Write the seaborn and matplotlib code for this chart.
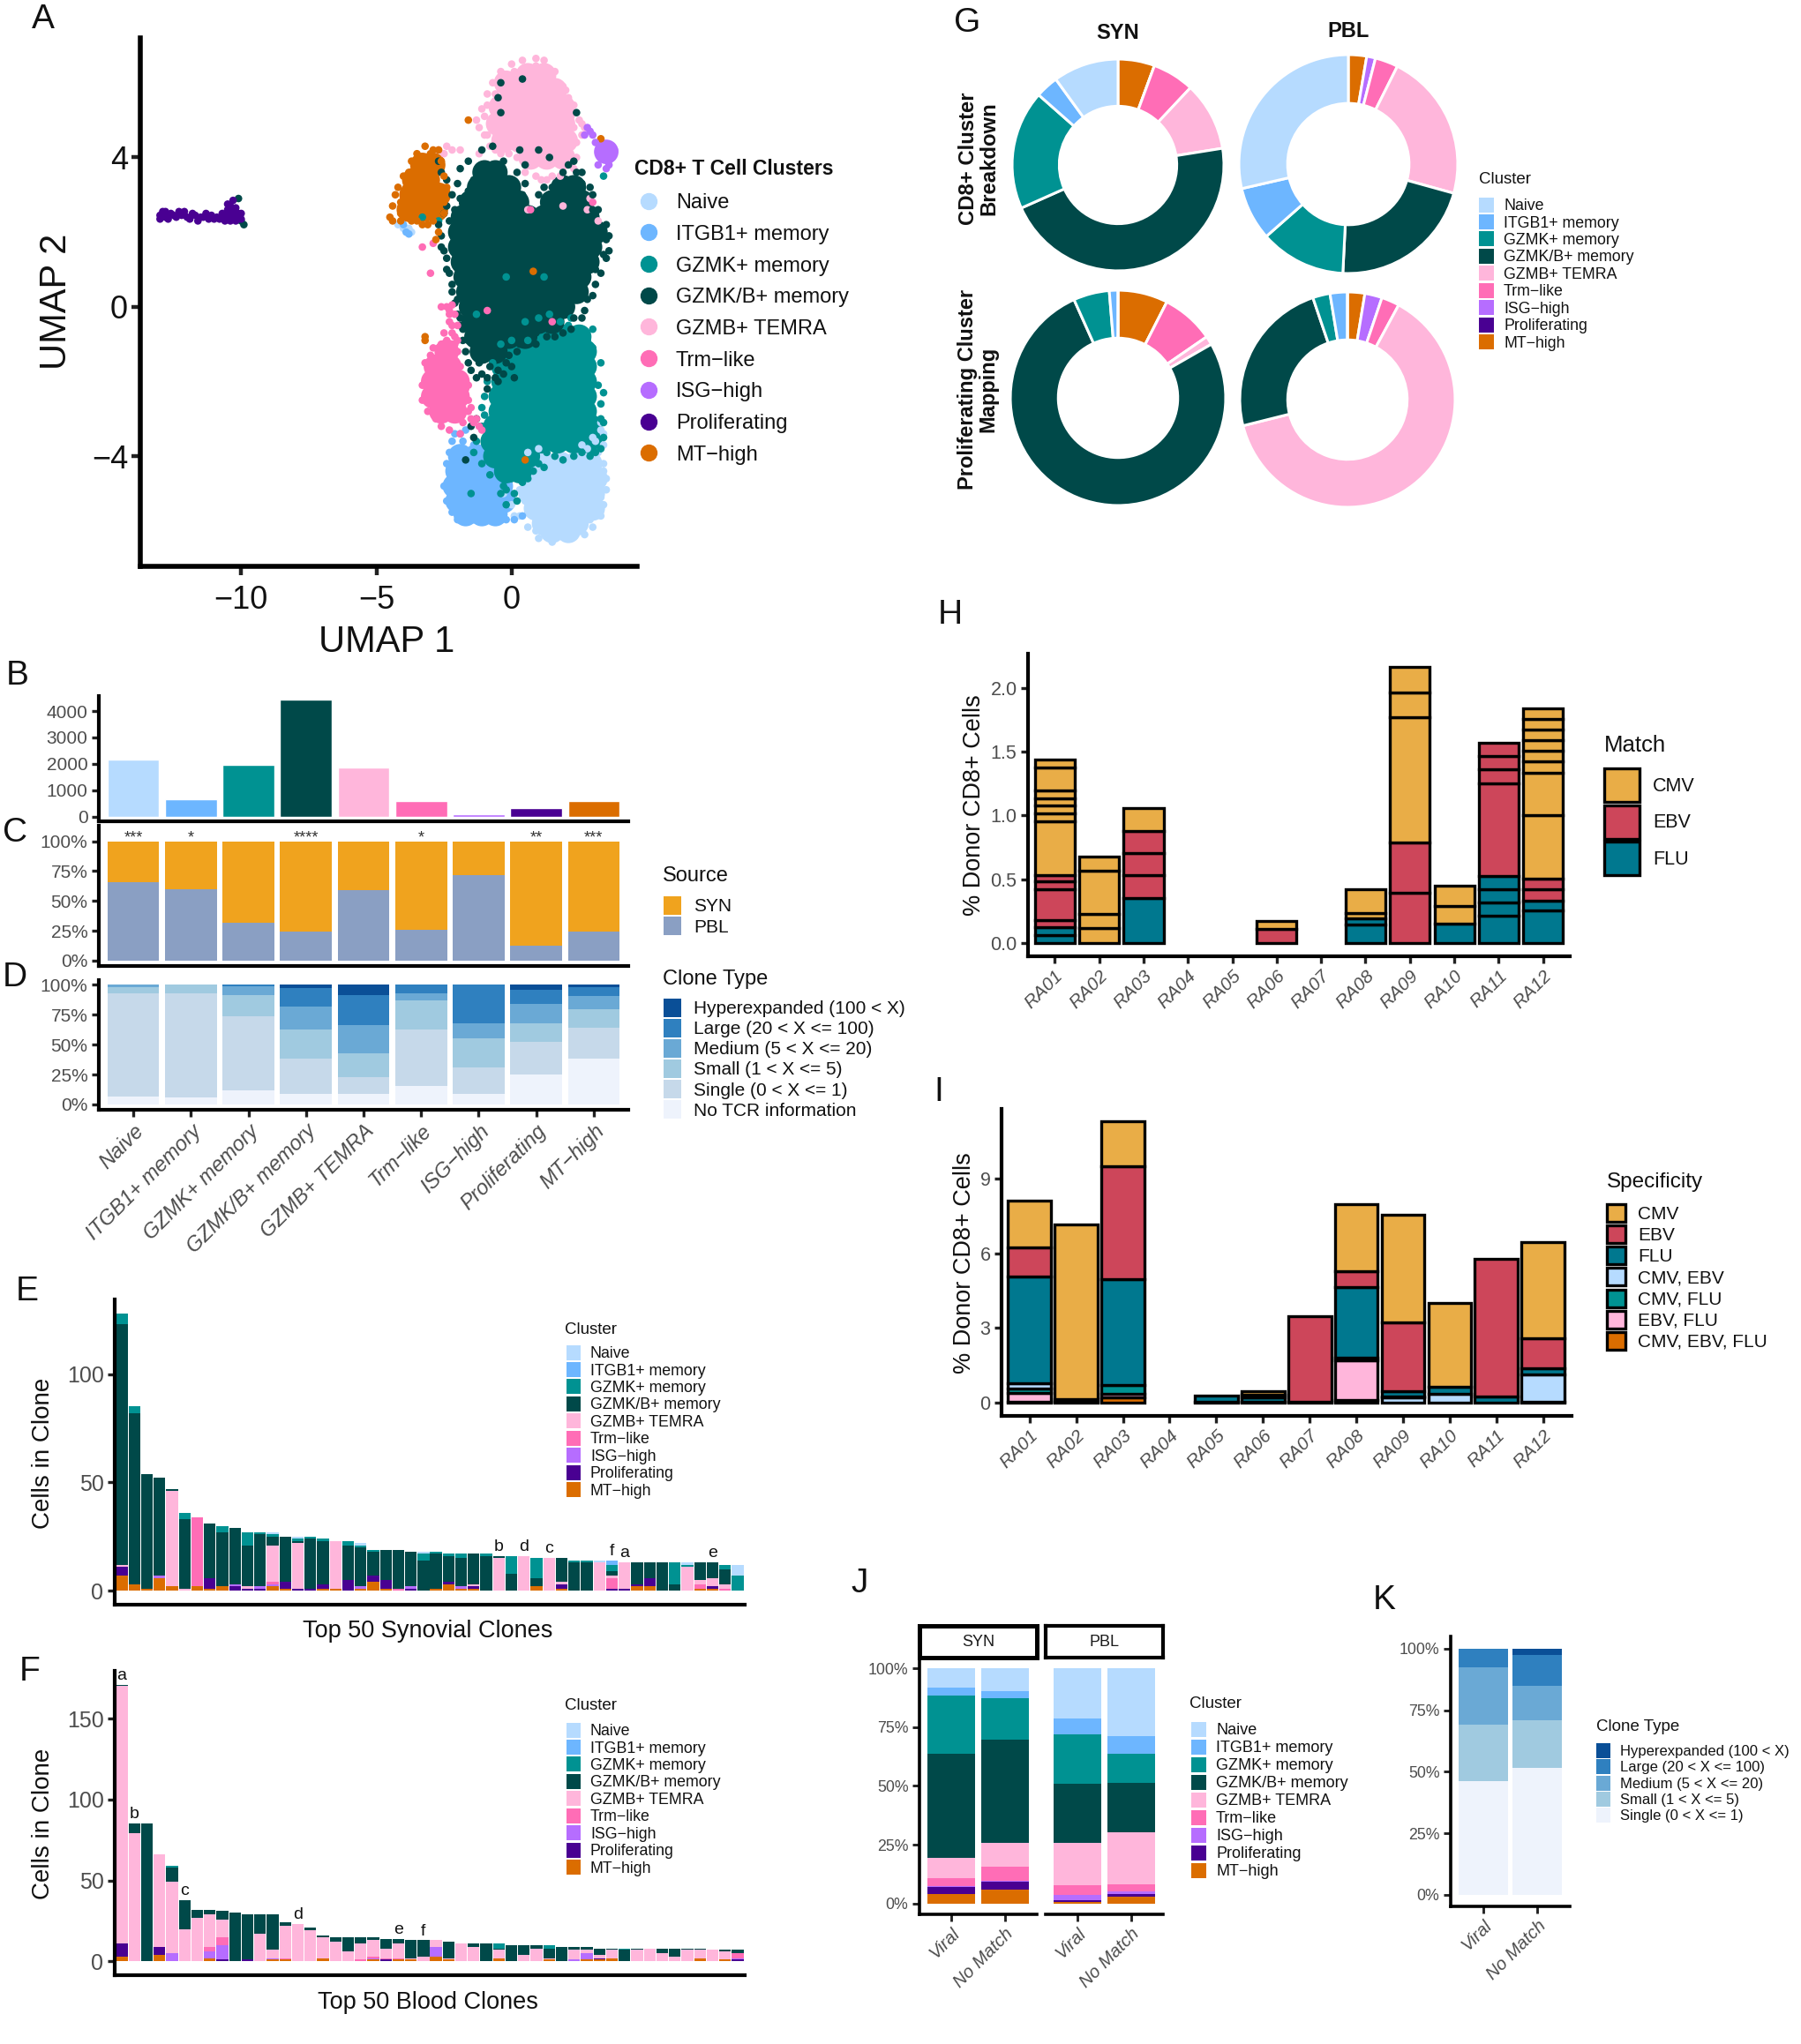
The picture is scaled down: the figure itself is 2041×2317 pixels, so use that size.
import matplotlib
matplotlib.use("Agg")
import matplotlib.pyplot as plt
import pandas as pd
import seaborn as sns
from matplotlib.lines import Line2D
from matplotlib.patches import Patch

W, H = 2041, 2317
GREY = "#4d4d4d"

CLUSTERS = ["Naive", "ITGB1+ memory", "GZMK+ memory", "GZMK/B+ memory", "GZMB+ TEMRA",
            "Trm\u2212like", "ISG\u2212high", "Proliferating", "MT\u2212high"]
CLUSTER_COLORS = ["#b6dbff", "#6db6ff", "#009292", "#004949", "#ffb6db",
                  "#ff6db6", "#b66dff", "#490092", "#db6d00"]
PALETTE = dict(zip(CLUSTERS, CLUSTER_COLORS))

# panel A, UMAP positions: dense body of each cluster
CORE_TEMRA = [(.6, 6.2), (1.2, 6.2), (-.2, 6), (0, 5.8), (.6, 5.8), (1.2, 5.8), (1.6, 5.8), (-.4, 5.35), (.2, 5.35), (.8, 5.35),
              (1.4, 5.35), (1.9, 5.35), (-.5, 4.9), (.1, 4.9), (.7, 4.9), (1.3, 4.9), (1.9, 4.9), (-.3, 4.45), (.3, 4.45),
              (.9, 4.45), (1.5, 4.45), (2, 4.45), (.7, 4), (1.3, 4), (1.9, 4)]
CORE_NAIVE = [(1.2, -4.2), (1.8, -4.2), (2.4, -4.2), (2.9, -4.2), (.9, -4.6), (1.5, -4.6), (2.1, -4.6), (2.7, -4.6),
              (3.1, -4.6), (.7, -5), (1.3, -5), (1.9, -5), (2.5, -5), (3, -5), (.9, -5.4), (1.5, -5.4), (2.1, -5.4),
              (2.7, -5.4), (3, -5.4), (1.2, -5.8), (1.8, -5.8), (2.4, -5.8), (1.5, -6), (2.1, -6)]
CORE_ITGB1 = [(-1.9, -4), (-1.3, -4), (-2, -4.4), (-1.4, -4.4), (-.8, -4.4), (-2.1, -4.8), (-1.5, -4.8), (-.9, -4.8),
              (-.4, -4.8), (-2, -5.2), (-1.4, -5.2), (-.8, -5.2), (-.3, -5.2), (-1.7, -5.55), (-1.1, -5.55), (-.6, -5.55)]
CORE_GZMK = [(.9, -.8), (1.4, -.8), (2, -.8), (2.5, -.8), (-.1, -1.2), (.5, -1.2), (1.1, -1.2), (1.7, -1.2), (2.3, -1.2),
             (2.7, -1.2), (-.3, -1.6), (.3, -1.6), (.9, -1.6), (1.5, -1.6), (2.1, -1.6), (2.7, -1.6), (-.3, -2), (.3, -2),
             (.9, -2), (1.5, -2), (2.1, -2), (2.7, -2), (-.4, -2.4), (.2, -2.4), (.8, -2.4), (1.4, -2.4), (2, -2.4),
             (2.7, -2.4), (-.4, -2.8), (.2, -2.8), (.8, -2.8), (1.4, -2.8), (2, -2.8), (2.7, -2.8), (-.6, -3.2), (0, -3.2),
             (.6, -3.2), (1.2, -3.2), (1.8, -3.2), (2.4, -3.2), (2.9, -3.2), (-.7, -3.6), (-.1, -3.6), (.5, -3.6),
             (1.1, -3.6), (1.7, -3.6), (2.3, -3.6), (2.9, -3.6), (-.6, -4), (0, -4), (.6, -4), (-.2, -4.4), (.3, -4.4)]
CORE_GZMKB = [(-1, 3.6), (-.6, 3.6), (-1.2, 3.2), (-.6, 3.2), (-.1, 3.2), (1.9, 3.2), (2.3, 3.2), (-1.5, 2.8), (-.9, 2.8),
              (-.3, 2.8), (.2, 2.8), (1.5, 2.8), (2.1, 2.8), (2.6, 2.8), (-1.8, 2.4), (-1.2, 2.4), (-.6, 2.4), (0, 2.4),
              (.6, 2.4), (1.2, 2.4), (1.8, 2.4), (2.4, 2.4), (2.8, 2.4), (-1.9, 2), (-1.3, 2), (-.7, 2), (-.1, 2), (.5, 2),
              (1.1, 2), (1.7, 2), (2.3, 2), (2.9, 2), (3.1, 2), (-1.9, 1.6), (-1.3, 1.6), (-.7, 1.6), (-.1, 1.6), (.5, 1.6),
              (1.1, 1.6), (1.7, 1.6), (2.3, 1.6), (2.9, 1.6), (-1.8, 1.2), (-1.2, 1.2), (-.6, 1.2), (0, 1.2), (.6, 1.2),
              (1.2, 1.2), (1.8, 1.2), (2.4, 1.2), (2.8, 1.2), (-1.7, .8), (-1.1, .8), (-.5, .8), (.1, .8), (.7, .8),
              (1.3, .8), (1.9, .8), (2.5, .8), (-1.6, .4), (-1, .4), (-.4, .4), (.2, .4), (.8, .4), (1.4, .4), (2, .4),
              (2.4, .4), (-1.5, 0), (-.9, 0), (-.3, 0), (.3, 0), (.9, 0), (1.5, 0), (1.9, 0), (-1.4, -.4), (-.8, -.4),
              (-.2, -.4), (.4, -.4), (1, -.4), (1.5, -.4), (-1.3, -.8), (-.7, -.8), (-.1, -.8), (.5, -.8), (-1.1, -1.2),
              (-.6, -1.2)]
CORE_TRM = [(-2.4, -1.2), (-2.8, -1.6), (-2.3, -1.6), (-2.9, -2), (-2.4, -2), (-2, -2), (-2.9, -2.4), (-2.4, -2.4),
            (-2, -2.4), (-2.6, -2.8), (-2.1, -2.8)]
CORE_ISG = [(3.5, 4.15)]
CORE_MT = [(-3.3, 3.8), (-2.9, 3.8), (-3.6, 3.4), (-3.1, 3.4), (-3.7, 3), (-3.1, 3), (-2.7, 3), (-3.8, 2.6), (-3.2, 2.6),
           (-2.8, 2.6)]

# loose single cells around the clusters
DOTS_TEMRA = [(-1.3, 5), (-1.2, 4.8), (-1.1, 5.3), (-.9, 5.7), (-.7, 6), (-.4, 6.3), (0, 6.5), (.4, 6.6), (.9, 6.65),
              (1.2, 6.6), (1.6, 6.3), (2, 5.8), (2.3, 5.4), (2.5, 5), (2.6, 4.6), (-1, 4.6), (-.8, 4.3), (-2.7, 4.2),
              (-2.4, 4.3), (-2.5, 4.1), (-1.2, 4.1), (.6, 3.8), (.9, 3.5), (1.1, 3.4), (1.5, 3.5), (2.7, 4.8), (2.9, 2.9),
              (2.8, 2.6), (3.2, 2.3), (.6, 2.6), (1.9, 2.7), (2.6, 4.9), (-2.2, 4.2), (-1.9, 4.2), (-1, 5.1), (-.9, 5.4),
              (-.8, 4.9), (-.9, 4.6), (-.6, 5.7), (-.3, 6.1), (.1, 6.3), (.5, 6.4), (.9, 6.45), (1.3, 6.4), (1.5, 6.1),
              (1.9, 5.9), (2.1, 5.6), (2.2, 5.1), (2.3, 4.8), (2.4, 4.4), (2.4, 4), (2.3, 3.7), (1.8, 3.5), (1.3, 3.4),
              (.5, 3.6), (.2, 4), (-.1, 4.1), (-.4, 4.1), (-.6, 4.2)]
DOTS_NAIVE = [(.6, -3.9), (1, -3.8), (3.4, -3.7), (3.4, -4.2), (3.5, -4.6), (3.5, -4.9), (3.4, -5.3), (3.3, -5.6), (3, -5.9),
              (2.7, -6.1), (2.2, -6.2), (1.5, -6.3), (1, -6.2), (.6, -5.9), (.3, -5.6), (0, -5.3), (-.3, -5), (3.3, -3.1),
              (3.3, -2.6), (3.4, -3.4), (3.1, -3.6), (2.6, -3.7), (-4.2, 2.2), (-4, 2.1), (-3.7, 2), (-3.8, 2.1), (1.9, -6.1),
              (2.4, -6), (1.3, -6.1), (.9, -6), (2.9, -5.7), (3.3, -5.1), (3.4, -4.4), (.6, -5.5), (.5, -5.2), (.3, -4.9),
              (.1, -5.6), (3.2, -3.9), (2.8, -3.8), (3, -3.5), (3.3, -3.3)]
DOTS_ITGB1 = [(-2.2, -3.6), (-1.9, -3.4), (-1.7, -3.3), (-1.4, -3.7), (-2.4, -4.2), (-2.5, -4.8), (-2.4, -5.2), (-2.2, -5.5),
              (-2, -5.7), (-1.4, -5.7), (-.8, -5.7), (-.2, -5.7), (.1, -5.7), (.4, -5.6), (-4, 2.2), (-3.9, 2), (-3.8, 1.95),
              (-2.1, -3.4), (-1.8, -3.6), (-2.3, -3.9)]
DOTS_GZMK = [(.5, -.4), (1, -.3), (1.4, -.2), (2.1, -.5), (2.6, -.6), (3, -1.1), (3, -1.6), (3.2, -2.1), (3.3, -2.6), (3.3, -3),
             (3.4, -3.5), (3.3, -3.8), (-1, -2.9), (-1.3, -3.6), (-1.4, -3.9), (-1.1, -4.2), (-.8, -4.5), (-.3, -4.8), (.1, -5),
             (.6, -4.6), (1, -4.2), (1.6, -4), (2.3, -4), (2.9, -4), (-.2, -5.3), (-1.5, -5), (-1.3, -.2), (-1.1, -2.7),
             (-3.3, 2.4), (-2.7, 2.3), (3.4, 3.5), (-.2, .8), (1.2, .8), (1.3, -3.9), (1.9, -4.1), (2.6, -3.9), (3.1, -3.9),
             (.8, -4.4), (.4, -4.7), (0, -4.6), (-.4, -5), (.2, -5.2), (-.2, -4.9), (1.2, -4.3), (3, -.6), (2.8, -.9),
             (2.2, -.3), (1.8, -.4), (.6, -.9), (0, -.9), (-.4, -1), (-.7, -1.5), (-.9, -2), (-1, -2.4), (-1.1, -3.2),
             (3.3, -1.5), (3.4, -2.3), (3.4, -3.1)]
DOTS_GZMKB = [(-1.6, 3.9), (-1.1, 4.2), (-.7, 4.3), (-.3, 3.9), (.2, 3.6), (.5, 3.3), (1, 3), (2.3, 3.9), (2.1, 3.8), (2.6, 3.6),
              (2.9, 3.2), (3, 3), (3.2, 2.6), (3.5, 2.2), (3.5, 1.8), (3.4, 1.4), (3.5, 1.3), (3.1, 1), (3.1, .6), (2.8, .2),
              (2.7, -.1), (2.3, -.3), (1.9, -.7), (1.3, -.8), (.9, -1), (.2, -1.2), (-.1, -1.3), (-.5, -1.7), (-.9, -1.9),
              (-1.2, -1.5), (-1.6, -.9), (-1.8, -.6), (-1.9, -.3), (-2, .2), (-2.2, .6), (-2.4, 1), (-2.5, 1.5), (-2.6, 1.9),
              (-2.7, 2.2), (-2.4, 2.7), (-2.2, 3), (-2, 3.3), (-2.6, 3.6), (-2.7, 3.9), (-2.4, 3.4), (-1.9, 3.7), (-.2, -1.5),
              (-.9, -2.2), (-1.3, -3), (-1.4, -3.5), (-1.7, -4.1), (-.5, -2), (-1.5, -3.2), (-.4, 6), (-.5, 5.6), (.4, 6.1),
              (-.4, 5.2), (.3, 4.2), (1, 4.2), (.5, 3.8), (1.4, 4), (2.4, 5.2), (-10.1, 2.9), (-10, 2.3), (-9.9, 2.2),
              (-2.5, 2.5), (-2.3, 2.3), (-2.6, 1.6), (-2.4, 1.3), (-2.3, .9), (-2.2, .4), (-2.1, .1), (-2, -.2), (-1.9, -.5),
              (-1.8, -.9), (-1.7, -1.2), (-1.6, -1.5), (-1.5, -1.7), (-1.3, -1.9), (-1.1, -1.8), (-.8, -1.6), (-.6, -1.9),
              (-.3, -1.8), (0, -1.6), (.1, -1.9), (-1.4, -1.2), (-1.2, -.9), (.3, -1), (.6, -.6), (.9, -.7), (1.3, -.5),
              (1.6, -.8), (2.2, -.6), (2.6, -.3), (3, .3), (3.3, .9), (3.6, 1.9), (3.6, 1.5), (3.3, 2.1), (3, 2.6), (2.6, 3.3),
              (2.4, 3.6), (1.9, 3.6), (1.5, 3.2), (1.2, 3.2), (.4, 3), (.1, 3.3), (-.3, 3.4), (-1.4, 3.4), (-1.6, 3.1),
              (-1.9, 2.9), (-2.1, 2.6)]
DOTS_TRM = [(-2.6, 0), (-2.4, 0), (-2.2, .05), (-2.1, -.2), (-2.2, -.5), (-2.1, -.8), (-2.5, -.7), (-2.6, -1), (-2, -1.2),
            (-3, -1.3), (-3.2, -1.5), (-1.9, -1.6), (-1.8, -2), (-3.3, -2.1), (-3.3, -2.5), (-1.6, -2.5), (-3.1, -2.8),
            (-2.8, -3), (-2.6, -3.2), (-2.3, -3.3), (-1.8, -3.1), (-1.5, -3), (-1.2, -3.2), (-1.1, -3.3), (-1.9, -3.4),
            (-2.9, 1.7), (-3, .9), (-3.3, 1.6), (.7, 2.6), (3, 2.8), (-.9, -.1), (1.5, -.4), (-2.3, -.2), (-2.3, -.4), (-2, -.5),
            (-2.2, -.7), (-2.4, -.9), (-2.2, -1), (-2.1, -1), (-2.7, -1.1), (-2.9, -1.1), (-2, -.9), (-2.3, -.1), (-1.6, -2.8),
            (-1.4, -3.1), (-1.7, -2.2), (-1.6, -2.1), (-1.5, -2.7), (-1.3, -3)]
DOTS_ISG = [(2.8, 4.8), (2.9, 4.7), (3, 4.6), (2.7, 4.6), (3.1, 4.4), (3.3, 4.2), (3.7, 4.3), (3.7, 4), (3.6, 3.8), (3.2, 3.8),
            (3.8, 4.2), (3.5, 3.7)]
DOTS_PROLIF = [(-13, 2.45), (-12.9, 2.55), (-12.8, 2.4), (-12.6, 2.5), (-12.5, 2.45), (-12.3, 2.55), (-12.2, 2.45), (-12, 2.4),
               (-11.9, 2.35), (-11.7, 2.45), (-11.6, 2.3), (-11.4, 2.4), (-11.2, 2.35), (-11.1, 2.45), (-10.9, 2.4), (-10.8, 2.35),
               (-10.6, 2.45), (-10.5, 2.35), (-10.4, 2.5), (-10.3, 2.4), (-10.2, 2.55), (-10.1, 2.35), (-10, 2.5), (-10.4, 2.7),
               (-10.3, 2.85), (-10.5, 2.75), (-10.2, 2.65), (-10.4, 2.3), (-13, 2.35), (-12.7, 2.35), (-12.8, 2.55), (-12.4, 2.4),
               (-12.1, 2.55), (-11.8, 2.5), (-11.5, 2.4), (-11.3, 2.5), (-11, 2.35), (-10.7, 2.5), (-10.6, 2.3), (-10.2, 2.3),
               (-10.1, 2.5), (-10.3, 2.6), (-10.5, 2.6), (-10.1, 2.45), (-10, 2.35)]
DOTS_MT = [(-3.2, 4.3), (-2.9, 4.2), (-2.7, 4.2), (-3.5, 4.1), (-3.7, 3.9), (-4, 3.5), (-4.2, 3.2), (-4.3, 3), (-4.4, 2.7),
           (-4.5, 2.4), (-4.4, 2.3), (-4.1, 2.3), (-3.7, 2.3), (-3.3, 2.2), (-2.9, 2.3), (-2.7, 2), (-2.8, 1.8), (-2.4, 3.2),
           (-1.6, 5), (-3.2, -.8), (-3.2, -.9), (.5, -4.1), (.8, .95), (3.3, 4.5), (-10.4, 2.6), (-3.9, 3.2), (-4.1, 2.8),
           (-4.1, 2.5), (-3.9, 2.4), (-3.5, 2.3), (-3.1, 2.2), (-2.5, 2.5), (-2.5, 2.8), (-2.5, 3.5), (-2.6, 3.9), (-3, 4.1),
           (-3.4, 4), (-3.8, 3.6)]

# panels B, C, D
CELL_COUNTS = [2150, 660, 1970, 4420, 1860, 600, 100, 310, 580]
SOURCE_PBL = [66, 60, 31.5, 24, 59, 26, 71.5, 12.5, 24]
SOURCE_SYN = [34, 40, 68.5, 76, 41, 74, 28.5, 87.5, 76]
STARS = ["***", "*", "", "****", "", "*", "", "**", "***"]
CLONE_TYPES = ["Hyperexpanded (100 < X)", "Large (20 < X <= 100)", "Medium (5 < X <= 20)",
               "Small (1 < X <= 5)", "Single (0 < X <= 1)", "No TCR information"]
CLONE_COLORS = ["#0a4f97", "#2f80bf", "#6aa9d5", "#a0cae0", "#c6d9ea", "#eef3fc"]
CLONE_HYPER = [0, 0, 0, 2.6, 8.7, 0, 0, 4, 2]
CLONE_LARGE = [0, 0, 1.3, 15.7, 25, 7, 32, 12, 7.3]
CLONE_MEDIUM = [2, 0, 7.4, 19.2, 23.7, 5.8, 12.6, 16, 11.2]
CLONE_SMALL = [5.4, 7.4, 17.3, 24, 19.6, 24.7, 24.6, 16, 15.5]
CLONE_SINGLE = [86.2, 86.8, 62.1, 29.8, 14.3, 47.1, 22.1, 27, 25.5]
CLONE_NONE = [6.4, 5.8, 11.9, 8.7, 8.7, 15.4, 8.7, 25, 38.5]

# panel E, top 50 synovial clones, cells per cluster
SYN_NAIVE = [0]*12 + [1, 0, 1, 0, 0, 0, 0, 1, 0, 0, 0, 0, 1] + [0]*13 + [1] + [0]*6 + [1, 0, 0, 0, 5]
SYN_ITGB1 = [0]*39 + [2] + [0]*10
SYN_GZMK = [5, 3, 0, 0, 0, 3, 0, 0, 3, 0, 6, 1, 1, 0, 1, 1, 1, 0, 2, 1, 1, 0, 0, 0, 3, 1, 1, 2, 0, 1,
            0, 8, 0, 9, 0, 0, 1, 1, 0, 3, 0, 0, 0, 0, 10, 1, 0, 0, 2, 7]
SYN_GZMKB = [111, 79, 53, 45, 1, 32, 0, 25, 25, 26, 19, 24, 4, 21, 1, 23, 20, 0, 16, 18, 11, 14, 18, 16, 14, 16, 12, 13, 14, 16,
             1, 8, 0, 4, 0, 11, 13, 13, 0, 2, 0, 10, 7, 13, 3, 0, 8, 7, 7, 0]
SYN_TEMRA = [1, 0, 0, 0, 44, 1, 0, 0, 0, 0, 1, 0, 17, 0, 21, 0, 0, 22, 0, 0, 0, 0, 0, 0, 0, 0, 0, 0, 1, 0,
             15, 0, 16, 0, 15, 1, 0, 0, 13, 1, 12, 0, 0, 0, 0, 11, 2, 4, 2, 0]
SYN_TRM = [0, 0, 0, 0, 0, 0, 32, 0, 0, 0, 0, 0, 1, 0, 0, 0, 0, 0, 0, 0, 0, 0, 1, 0, 0, 0, 0, 0, 0, 0,
           0, 0, 0, 0, 0, 0, 0, 0, 0, 5, 0, 0, 0, 0, 0, 0, 2, 0, 1, 0]
SYN_ISG = [0, 0, 0, 1, 0, 0, 0, 0, 0, 1, 0, 1, 1, 0, 0, 0, 0, 0, 0, 1, 0, 0, 0, 1, 0, 0, 0, 1, 0, 0] + [0]*20
SYN_PROLIF = [4, 0, 0, 0, 0, 0, 0, 5, 0, 2, 1, 1, 0, 3, 1, 1, 2, 0, 5, 0, 3, 4, 0, 1, 0, 0, 1, 0, 1, 0,
              0, 0, 0, 0, 0, 2, 0, 0, 0, 1, 1, 1, 4, 0, 0, 0, 0, 1, 0, 0]
SYN_MT = [7, 3, 1, 6, 2, 0, 2, 1, 2, 0, 0, 0, 2, 1, 0, 0, 1, 1, 0, 1, 4, 1, 0, 0, 0, 1, 3, 1, 1, 0,
          0, 0, 0, 2, 0, 1, 0, 0, 0, 0, 0, 2, 2, 0, 0, 0, 1, 1, 0, 0]
SYN_TAGS = [("b", 30), ("d", 32), ("c", 34), ("f", 39), ("a", 40), ("e", 47)]

# panel F, top 50 blood clones
PBL_GZMK = [0, 0, 0, 0, 1] + [0]*25 + [3, 0, 0, 0, 2, 0, 0, 0, 0, 0, 1] + [0]*9
PBL_GZMKB = [1, 6, 85, 0, 9, 18, 5, 3, 5, 30, 28, 12, 22, 2, 0, 2, 1, 3, 9, 4, 2, 6, 3, 11, 10, 0, 10, 0, 2, 11,
             1, 10, 6, 2, 6, 9, 2, 2, 4, 1, 7, 1, 0, 3, 5, 1, 1, 0, 1, 2]
PBL_TEMRA = [159, 79, 0, 57, 44, 20, 27, 20, 11, 0, 0, 17, 5, 20, 23, 19, 13, 12, 6, 10, 10, 6, 9, 1, 3, 4, 1, 11, 9, 0,
             5, 0, 4, 8, 1, 0, 6, 2, 2, 5, 0, 7, 8, 5, 3, 7, 5, 7, 5, 0]
PBL_TRM = [0, 0, 0, 0, 0, 0, 0, 3, 5, 0, 0, 0, 0, 1, 0, 0, 0, 0, 0, 1, 1, 1, 1] + [0]*26 + [3]
PBL_ISG = [0, 0, 0, 0, 5, 0, 0, 4, 9, 0, 0, 0, 1, 0, 0, 0, 0, 0, 0, 0, 1, 0, 0, 0, 0, 6, 0, 0, 0, 0,
           0, 0, 0, 0, 0, 0, 1, 4, 0, 0, 0, 0, 0, 0, 0, 0, 0, 0, 0, 1]
PBL_PROLIF = [8, 0, 0, 5, 0, 0, 0, 0, 1, 0, 1, 0, 0, 0, 0, 0, 0, 0, 0, 0, 0, 1, 0, 0, 0, 0, 0, 0, 0, 0,
              0, 0, 0, 0, 0, 0, 0, 0, 1, 0, 0, 0, 0, 0, 0, 0, 0, 0, 0, 1]
PBL_MT = [3, 0, 0, 4, 0, 0, 0, 2, 0, 0, 0, 0, 1, 1, 0, 0, 2, 0, 0, 0, 1, 0, 1, 1, 0, 3, 1, 0, 0, 0,
          2, 0, 0, 0, 1, 0, 0, 1, 1, 2, 0, 0, 0, 0, 0, 0, 2, 0, 1, 0]
PBL_TAGS = [("a", 0), ("b", 1), ("c", 5), ("d", 14), ("e", 22), ("f", 24)]

# panel G, shares going clockwise from twelve o'clock
DONUT_ORDER = ["MT\u2212high", "ISG\u2212high", "Trm\u2212like", "GZMB+ TEMRA", "GZMK/B+ memory", "GZMK+ memory",
               "ITGB1+ memory", "Naive"]
SYN_BREAKDOWN = [5.6, 0, 6.4, 10.5, 45.9, 18.2, 3.5, 10]
PBL_BREAKDOWN = [2.7, 1.3, 3.4, 21.9, 21.5, 12.7, 7.9, 28.6]
SYN_MAPPING = [7.5, 0, 7.9, 1.3, 76.6, 5.4, 1.3, 0]
PBL_MAPPING = [2.6, 2.6, 2.7, 63.2, 23.7, 2.6, 2.6, 0]

# panel H, one (match, share) per clone from the bottom of each bar up
DONORS = ["RA01", "RA02", "RA03", "RA04", "RA05", "RA06", "RA07", "RA08", "RA09", "RA10", "RA11", "RA12"]
VIRUS_COLORS = {"CMV": "#e9ad47", "EBV": "#cd465a", "FLU": "#00788f", "CMV, EBV": "#b6dbff",
                "CMV, FLU": "#009292", "EBV, FLU": "#ffb6db", "CMV, EBV, FLU": "#db6d00"}
MATCH_RA01 = [("FLU", .062), ("FLU", .063), ("EBV", .057), ("EBV", .238), ("EBV", .063), ("EBV", .053), ("CMV", .422),
              ("CMV", .058), ("CMV", .063), ("CMV", .057), ("CMV", .058), ("CMV", .185), ("CMV", .062)]
MATCH_RA02 = [("CMV", .115), ("CMV", .114), ("CMV", .337), ("CMV", .113)]
MATCH_RA03 = [("FLU", .351), ("EBV", .18), ("EBV", .173), ("EBV", .178), ("CMV", .178)]
MATCH_RA06 = [("EBV", .108), ("CMV", .065)]
MATCH_RA08 = [("FLU", .143), ("FLU", .051), ("CMV", .042), ("CMV", .184)]
MATCH_RA09 = [("EBV", .397), ("EBV", .393), ("CMV", .981), ("CMV", .197), ("CMV", .196)]
MATCH_RA10 = [("FLU", .15), ("CMV", .143), ("CMV", .155)]
MATCH_RA11 = [("FLU", .212), ("FLU", .104), ("FLU", .104), ("FLU", .104), ("EBV", .728), ("EBV", .108), ("EBV", .104), ("EBV", .106)]
MATCH_RA12 = [("FLU", .254), ("FLU", .081), ("EBV", .085), ("EBV", .086), ("CMV", .496), ("CMV", .337), ("CMV", .086),
              ("CMV", .081), ("CMV", .085), ("CMV", .083), ("CMV", .086), ("CMV", .081)]

# panel I, same layout per specificity
SPEC_RA01 = [("CMV, EBV, FLU", .05), ("EBV, FLU", .33), ("CMV, FLU", .2), ("CMV, EBV", .2), ("FLU", 4.3), ("EBV", 1.15), ("CMV", 1.87)]
SPEC_RA02 = [("CMV, EBV, FLU", .03), ("CMV, FLU", .1), ("CMV", 7.02)]
SPEC_RA03 = [("CMV, EBV, FLU", .22), ("EBV, FLU", .13), ("CMV, FLU", .35), ("FLU", 4.26), ("EBV", 4.55), ("CMV", 1.8)]
SPEC_RA05 = [("CMV, EBV, FLU", .03), ("FLU", .27)]
SPEC_RA06 = [("CMV, FLU", .05), ("FLU", .18), ("EBV", .1), ("CMV", .12)]
SPEC_RA07 = [("CMV, FLU", .04), ("EBV", 3.45)]
SPEC_RA08 = [("CMV, EBV", .1), ("EBV, FLU", 1.6), ("CMV, FLU", .12), ("FLU", 2.84), ("EBV", .61), ("CMV", 2.7)]
SPEC_RA09 = [("CMV, EBV", .2), ("EBV, FLU", .04), ("FLU", .21), ("EBV", 2.77), ("CMV", 4.34)]
SPEC_RA10 = [("CMV, EBV", .35), ("FLU", .3), ("CMV", 3.37)]
SPEC_RA11 = [("FLU", .26), ("EBV", 5.53)]
SPEC_RA12 = [("EBV, FLU", .05), ("CMV, EBV", 1.07), ("FLU", .27), ("EBV", 1.19), ("CMV", 3.86)]

# panel J, shares in the order of CLUSTERS
VIRAL_GROUPS = ["Viral", "No Match"]
J_SYN_VIRAL = [8.1, 3.7, 24.4, 44.5, 8.6, 3.4, .3, 3, 4]
J_SYN_NOMATCH = [9.6, 3.3, 17.3, 44.2, 10, 6, .2, 3.5, 5.9]
J_PBL_VIRAL = [21.3, 7, 20.8, 25.1, 18.1, 4.2, 2.1, .8, .6]
J_PBL_NOMATCH = [28.7, 7.7, 12.2, 21.2, 22.1, 3, 1.2, .9, 3]

# panel K, shares in the order of CLONE_TYPES without the last one
K_VIRAL = [0, 7.4, 23.6, 22.7, 46.3]
K_NOMATCH = [2.7, 12.3, 13.9, 19.6, 51.5]

sns.set_theme(style="ticks")
plt.rcParams["font.family"] = ["Liberation Sans", "DejaVu Sans"]
plt.rcParams["axes.unicode_minus"] = True

fig = plt.figure(figsize=(W/100, H/100), dpi=100)
fig.patch.set_facecolor("white")


def px_axes(left, top, right, bottom):
    return fig.add_axes([left/W, 1 - bottom/H, (right - left)/W, (bottom - top)/H])


def style_axes(ax, lw=3, size=15, color=GREY, xlim=None, ylim=None):
    sns.despine(ax=ax)
    for side in ["left", "bottom"]:
        ax.spines[side].set_linewidth(lw)
        ax.spines[side].set_color("black")
    ax.tick_params(width=lw*0.8, length=6, labelsize=size, labelcolor=color, color="#222222", pad=3)
    ax.set_xlabel(None)
    ax.set_ylabel(None)
    ax.patch.set_alpha(0)
    if xlim:
        ax.set_xlim(*xlim)
    if ylim:
        ax.set_ylim(*ylim)


def slanted_labels(ax, labels, size):
    ax.set_xticks(range(len(labels)))
    ax.set_xticklabels(labels, rotation=45, ha="right", rotation_mode="anchor", style="italic", fontsize=size, color=GREY)


def place_ylabel(ax, text, x, y, size):
    ax.set_ylabel(text, fontsize=size, va="center", ha="center", color="#111111")
    ax.yaxis.set_label_coords(x/W, 1 - y/H, transform=fig.transFigure)


def place_xlabel(ax, text, x, y, size):
    ax.set_xlabel(text, fontsize=size, va="center", ha="center", color="#111111")
    ax.xaxis.set_label_coords(x/W, 1 - y/H, transform=fig.transFigure)


def fig_text(x, y, text, size, **kw):
    kw.setdefault("va", "center")
    kw.setdefault("ha", "left")
    kw.setdefault("color", "#111111")
    fig.text(x/W, 1 - y/H, text, fontsize=size, **kw)


def key(labels, colors, box_x, first_y, box_w, box_h, pitch, text_x, size, edge="none", lw=0, round_marks=False):
    """Legend placed by pixels: first_y is the middle of the first row."""
    p = size*100/72
    # the handle drawn by matplotlib is p*hh - descent tall
    hh = (box_h/p - .245)/.65
    desc_h = .35*p*(hh - .7)
    asc_h = box_h - desc_h
    asc_t, desc_t = .73*p, .21*p
    row = max(asc_h, asc_t) + max(desc_h, desc_t)
    top = first_y + (asc_h - desc_h)/2 - max(asc_h, asc_t)
    if round_marks:
        handles = [Line2D([], [], marker="o", ls="none", mfc=c, mec=c, ms=box_h*.72) for c in colors]
    else:
        handles = [Patch(facecolor=c, edgecolor=edge, linewidth=lw) for c in colors]
    fig.legend(handles=handles, labels=labels, loc="upper left", bbox_to_anchor=(box_x/W, 1 - top/H),
               bbox_transform=fig.transFigure, frameon=False, fontsize=size, handlelength=box_w/p, handleheight=hh,
               labelspacing=(pitch - row)/p, handletextpad=(text_x - box_x - box_w)/p, borderpad=0, borderaxespad=0,
               labelcolor="#111111")


def stack_table(groups, levels, columns):
    rows = []
    for level, col in zip(levels, columns):
        for g, v in zip(groups, col):
            rows.append({"group": g, "level": level, "value": v})
    return pd.DataFrame(rows)


def stacked(ax, table, palette, order, shrink=.9, lw=0, edge="none"):
    sns.histplot(data=table, x="group", weights="value", hue="level", hue_order=order, palette=palette,
                 multiple="stack", discrete=True, shrink=shrink, alpha=1, linewidth=lw, edgecolor=edge,
                 legend=False, ax=ax)


def clone_segments(by_donor):
    rows = []
    for d, segs in by_donor.items():
        for i, (virus, share) in enumerate(segs):
            rows.append({"group": DONORS.index(d), "level": f"{d}-{i}", "value": share, "virus": virus})
    return pd.DataFrame(rows)


# ---- A
core = []
dots = []
for name, pts in [("GZMB+ TEMRA", CORE_TEMRA), ("Naive", CORE_NAIVE), ("ITGB1+ memory", CORE_ITGB1), ("GZMK+ memory", CORE_GZMK),
                  ("GZMK/B+ memory", CORE_GZMKB), ("Trm\u2212like", CORE_TRM), ("MT\u2212high", CORE_MT), ("ISG\u2212high", CORE_ISG)]:
    core += [{"x": x, "y": y, "cluster": name} for x, y in pts]
for name, pts in [("GZMB+ TEMRA", DOTS_TEMRA), ("Naive", DOTS_NAIVE), ("ITGB1+ memory", DOTS_ITGB1), ("GZMK+ memory", DOTS_GZMK),
                  ("GZMK/B+ memory", DOTS_GZMKB), ("Trm\u2212like", DOTS_TRM), ("MT\u2212high", DOTS_MT), ("ISG\u2212high", DOTS_ISG),
                  ("Proliferating", DOTS_PROLIF)]:
    dots += [{"x": x, "y": y, "cluster": name} for x, y in pts]

ax = px_axes(159, 43, 722, 642)
sns.scatterplot(data=pd.DataFrame(core), x="x", y="y", hue="cluster", palette=PALETTE, s=400, linewidth=0, legend=False, ax=ax)
sns.scatterplot(data=pd.DataFrame(dots), x="x", y="y", hue="cluster", palette=PALETTE, s=38, linewidth=0, legend=False, ax=ax)
style_axes(ax, lw=4, size=26, color="#111111", xlim=(-13.73, 4.64), ylim=(-6.95, 7.2))
ax.tick_params(length=7)
ax.tick_params(axis="x", pad=8)
ax.set_xticks([-10, -5, 0])
ax.set_yticks([-4, 0, 4])
place_xlabel(ax, "UMAP 1", 438, 728, 30)
place_ylabel(ax, "UMAP 2", 64, 342, 30)
fig_text(719, 191, "CD8+ T Cell Clusters", 16.5, weight="bold")
key(CLUSTERS, CLUSTER_COLORS, 726, 228, 18, 18, 35.7, 766, 17, round_marks=True)

# ---- B
cluster_xlim = (-.6, 8.6)
ax = px_axes(112, 789, 712, 931)
sns.barplot(x=CLUSTERS, y=CELL_COUNTS, hue=CLUSTERS, palette=PALETTE, width=.9, saturation=1, legend=False, ax=ax)
style_axes(ax, xlim=cluster_xlim, ylim=(-180, 4570))
ax.set_xticks([])
ax.set_yticks([0, 1000, 2000, 3000, 4000])

# ---- C
ax = px_axes(112, 936, 712, 1095)
stacked(ax, stack_table(range(9), ["SYN", "PBL"], [SOURCE_SYN, SOURCE_PBL]), {"SYN": "#f0a31e", "PBL": "#8a9fc3"}, ["SYN", "PBL"])
style_axes(ax, xlim=cluster_xlim, ylim=(-4.5, 113))
ax.set_xticks([])
ax.set_yticks([0, 25, 50, 75, 100])
ax.set_yticklabels(["0%", "25%", "50%", "75%", "100%"])
for i, s in enumerate(STARS):
    ax.text(i, 102.5, s, ha="center", va="center", fontsize=13, color="#333333")
fig_text(751, 993, "Source", 17)
key(["SYN", "PBL"], ["#f0a31e", "#8a9fc3"], 752, 1026, 20, 21, 24, 786, 15)

# ---- D
ax = px_axes(112, 1111, 712, 1258)
stacked(ax, stack_table(range(9), CLONE_TYPES, [CLONE_HYPER, CLONE_LARGE, CLONE_MEDIUM, CLONE_SMALL, CLONE_SINGLE, CLONE_NONE]),
        dict(zip(CLONE_TYPES, CLONE_COLORS)), CLONE_TYPES)
style_axes(ax, xlim=cluster_xlim, ylim=(-4.5, 104))
ax.set_yticks([0, 25, 50, 75, 100])
ax.set_yticklabels(["0%", "25%", "50%", "75%", "100%"])
slanted_labels(ax, CLUSTERS, 17)
fig_text(751, 1110, "Clone Type", 17)
key(CLONE_TYPES, CLONE_COLORS, 752, 1142, 20, 21, 23.5, 786, 15)

# ---- E
ax = px_axes(130, 1473, 844, 1819)
stacked(ax, stack_table(range(50), CLUSTERS, [SYN_NAIVE, SYN_ITGB1, SYN_GZMK, SYN_GZMKB, SYN_TEMRA, SYN_TRM, SYN_ISG, SYN_PROLIF, SYN_MT]),
        PALETTE, CLUSTERS, shrink=.93)
style_axes(ax, size=18, xlim=(-.56, 49.56), ylim=(-6.4, 134.4))
ax.set_xticks([])
ax.set_yticks([0, 50, 100])
syn_totals = [sum(v) for v in zip(SYN_NAIVE, SYN_ITGB1, SYN_GZMK, SYN_GZMKB, SYN_TEMRA, SYN_TRM, SYN_ISG, SYN_PROLIF, SYN_MT)]
for tag, i in SYN_TAGS:
    ax.text(i, syn_totals[i] + .8, tag, ha="center", va="bottom", fontsize=14, color="#111111")
place_xlabel(ax, "Top 50 Synovial Clones", 485, 1849, 19.5)
place_ylabel(ax, "Cells in Clone", 49, 1647, 20)
fig_text(640, 1507, "Cluster", 13.5)
key(CLUSTERS, CLUSTER_COLORS, 642, 1533, 16, 17, 19.2, 669, 12.8)

# ---- F
zeros = [0]*50
ax = px_axes(130, 1894, 844, 2239)
stacked(ax, stack_table(range(50), CLUSTERS, [zeros, zeros, PBL_GZMK, PBL_GZMKB, PBL_TEMRA, PBL_TRM, PBL_ISG, PBL_PROLIF, PBL_MT]),
        PALETTE, CLUSTERS, shrink=.93)
style_axes(ax, size=18, xlim=(-.56, 49.56), ylim=(-8.6, 179.5))
ax.set_xticks([])
ax.set_yticks([0, 50, 100, 150])
pbl_totals = [sum(v) for v in zip(PBL_GZMK, PBL_GZMKB, PBL_TEMRA, PBL_TRM, PBL_ISG, PBL_PROLIF, PBL_MT)]
for tag, i in PBL_TAGS:
    ax.text(i, pbl_totals[i] + 1, tag, ha="center", va="bottom", fontsize=14, color="#111111")
place_xlabel(ax, "Top 50 Blood Clones", 485, 2270, 19.5)
place_ylabel(ax, "Cells in Clone", 49, 2067, 20)
fig_text(640, 1933, "Cluster", 13.5)
key(CLUSTERS, CLUSTER_COLORS, 642, 1961, 16, 17, 19.2, 669, 12.8)

# ---- G
for values, (cx, cy, r) in [(SYN_BREAKDOWN, (1267, 187, 120)), (PBL_BREAKDOWN, (1528, 186, 124)),
                            (SYN_MAPPING, (1267, 451, 122)), (PBL_MAPPING, (1527, 453, 122))]:
    ax = px_axes(cx - r, cy - r, cx + r, cy + r)
    ax.pie(values, colors=[PALETTE[c] for c in DONUT_ORDER], startangle=90, counterclock=False, radius=1,
           wedgeprops=dict(width=.445, edgecolor="white", linewidth=2.2, clip_on=False))
    ax.set_xlim(-1, 1)
    ax.set_ylim(-1, 1)
fig_text(1267, 37, "SYN", 17, weight="bold", ha="center")
fig_text(1528, 35, "PBL", 17, weight="bold", ha="center")
fig_text(1109, 180, "CD8+ Cluster\nBreakdown", 17.2, weight="bold", ha="center", rotation=90, linespacing=1.05, multialignment="center")
fig_text(1108, 441, "Proliferating Cluster\nMapping", 17, weight="bold", ha="center", rotation=90, linespacing=1.05, multialignment="center")
fig_text(1676, 204, "Cluster", 13.5)
key(CLUSTERS, CLUSTER_COLORS, 1676, 232, 17, 17, 19.2, 1704, 12.8)

# ---- H
match_table = clone_segments({"RA01": MATCH_RA01, "RA02": MATCH_RA02, "RA03": MATCH_RA03, "RA06": MATCH_RA06, "RA08": MATCH_RA08,
                              "RA09": MATCH_RA09, "RA10": MATCH_RA10, "RA11": MATCH_RA11, "RA12": MATCH_RA12})
ax = px_axes(1165, 741, 1779, 1084)
stacked(ax, match_table, {r.level: VIRUS_COLORS[r.virus] for r in match_table.itertuples()}, list(match_table["level"])[::-1],
        lw=2.4, edge="black", shrink=.9)
for patch in list(ax.patches):
    if patch.get_height() == 0:
        patch.remove()
style_axes(ax, lw=3, size=15.5, xlim=(-.6, 11.6), ylim=(-.104, 2.27))
ax.set_yticks([0, .5, 1, 1.5, 2])
ax.set_yticklabels(["0.0", "0.5", "1.0", "1.5", "2.0"])
slanted_labels(ax, DONORS, 15)
place_ylabel(ax, "% Donor CD8+ Cells", 1104, 913, 19.5)
fig_text(1818, 845, "Match", 18.5)
key(["CMV", "EBV", "FLU"], [VIRUS_COLORS[v] for v in ["CMV", "EBV", "FLU"]], 1818, 890, 40, 38, 41.5, 1873, 15.5, edge="black", lw=2.4)

# ---- I
spec_table = clone_segments({"RA01": SPEC_RA01, "RA02": SPEC_RA02, "RA03": SPEC_RA03, "RA05": SPEC_RA05, "RA06": SPEC_RA06, "RA07": SPEC_RA07,
                             "RA08": SPEC_RA08, "RA09": SPEC_RA09, "RA10": SPEC_RA10, "RA11": SPEC_RA11, "RA12": SPEC_RA12})
ax = px_axes(1135, 1257, 1781, 1605)
stacked(ax, spec_table, {r.level: VIRUS_COLORS[r.virus] for r in spec_table.itertuples()}, list(spec_table["level"])[::-1],
        lw=2.4, edge="black", shrink=.92)
for patch in list(ax.patches):
    if patch.get_height() == 0:
        patch.remove()
style_axes(ax, lw=3, size=15.5, xlim=(-.6, 11.61), ylim=(-.53, 11.8))
ax.set_yticks([0, 3, 6, 9])
slanted_labels(ax, DONORS, 15)
place_ylabel(ax, "% Donor CD8+ Cells", 1093, 1432, 19.5)
fig_text(1821, 1340, "Specificity", 17.5)
key(list(VIRUS_COLORS), list(VIRUS_COLORS.values()), 1821, 1375, 21, 20, 24.5, 1856, 15, edge="black", lw=2.4)

# ---- J
for name, viral, nomatch, left, right, strip_lw in [("SYN", J_SYN_VIRAL, J_SYN_NOMATCH, 1042, 1175, 3.6), ("PBL", J_PBL_VIRAL, J_PBL_NOMATCH, 1185, 1318, 3)]:
    ax = px_axes(left, 1879, right, 2170)
    stacked(ax, stack_table(range(2), CLUSTERS, list(zip(viral, nomatch))), PALETTE, CLUSTERS)
    style_axes(ax, lw=2.6, size=12.8, xlim=(-.6, 1.6), ylim=(-4.6, 104.5))
    slanted_labels(ax, VIRAL_GROUPS, 14.5)
    if name == "SYN":
        ax.set_yticks([0, 25, 50, 75, 100])
        ax.set_yticklabels(["0%", "25%", "50%", "75%", "100%"])
    else:
        ax.set_yticks([])
        ax.spines["left"].set_visible(False)
    strip = px_axes(left, 1843, right, 1879)
    strip.set_xticks([])
    strip.set_yticks([])
    strip.set_facecolor("white")
    for s in strip.spines.values():
        s.set_linewidth(strip_lw)
        s.set_color("black")
    strip.text(.5, .5, name, ha="center", va="center", fontsize=13, color="#1a1a1a", transform=strip.transAxes)
fig_text(1348, 1931, "Cluster", 13.5)
key(CLUSTERS, CLUSTER_COLORS, 1350, 1960, 17, 17, 19.8, 1378, 13)

# ---- K
ax = px_axes(1644, 1855, 1779, 2161)
stacked(ax, stack_table(range(2), CLONE_TYPES[:5], list(zip(K_VIRAL, K_NOMATCH))), dict(zip(CLONE_TYPES, CLONE_COLORS[:4] + ["#eef3fc"])),
        CLONE_TYPES[:5], shrink=.92)
style_axes(ax, lw=2.6, size=12.8, xlim=(-.61, 1.6), ylim=(-4.67, 105))
ax.set_yticks([0, 25, 50, 75, 100])
ax.set_yticklabels(["0%", "25%", "50%", "75%", "100%"])
slanted_labels(ax, VIRAL_GROUPS, 14.5)
fig_text(1809, 1958, "Clone Type", 13.5)
key(CLONE_TYPES[:5], CLONE_COLORS[:4] + ["#eef3fc"], 1809, 1984.5, 16, 17, 18.8, 1836.5, 12)

# ---- panel letters
for letter, x, y in [("A", 49, 22), ("B", 20, 766), ("C", 17, 944), ("D", 17, 1108), ("E", 31, 1464), ("F", 34, 1895),
                     ("G", 1096, 26), ("H", 1077, 697), ("I", 1064, 1238), ("J", 974, 1795), ("K", 1569, 1814)]:
    fig_text(x, y, letter, 28, ha="center")

fig.savefig("out.png", dpi=100)
